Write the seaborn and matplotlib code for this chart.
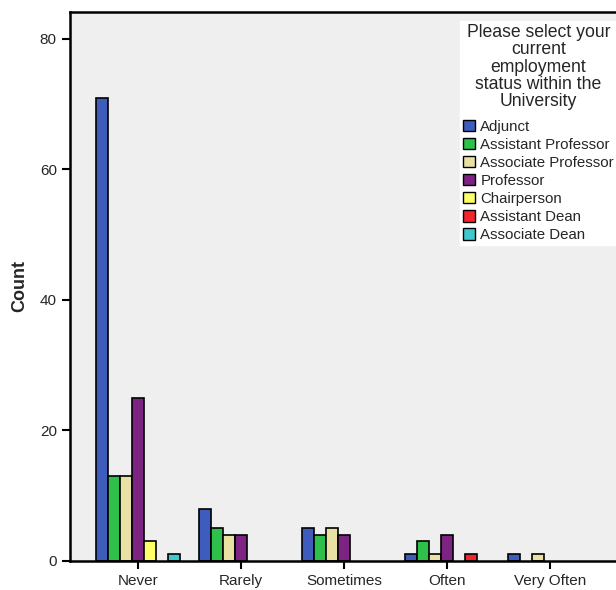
import matplotlib
matplotlib.use("Agg")
import matplotlib.pyplot as plt
from matplotlib.patches import Patch
import seaborn as sns
import pandas as pd

categories = ["Never", "Rarely", "Sometimes", "Often", "Very Often"]
statuses = ["Adjunct", "Assistant Professor", "Associate Professor", "Professor",
            "Chairperson", "Assistant Dean", "Associate Dean"]
adjunct = [71, 8, 5, 1, 1]
assistant_prof = [13, 5, 4, 3, 0]
associate_prof = [13, 4, 5, 1, 1]
professor = [25, 4, 4, 4, 0]
chairperson = [3, 0, 0, 0, 0]
assistant_dean = [0, 0, 0, 1, 0]
associate_dean = [1, 0, 0, 0, 0]
series = [adjunct, assistant_prof, associate_prof, professor,
          chairperson, assistant_dean, associate_dean]
colors = ["#3D5CBC", "#2FC04C", "#E9E0A4", "#7D2482", "#FFFF6A", "#F2262C", "#3FC9CC"]

rows = []
for s, vals in zip(statuses, series):
    for c, v in zip(categories, vals):
        rows.append({"cat": c, "status": s, "count": v})
df = pd.DataFrame(rows)

sns.set_theme(style="white")
plt.rcParams['font.family'] = ['Liberation Sans', 'DejaVu Sans']

fig = plt.figure(figsize=(6.16, 5.90), dpi=100)
ax = fig.add_axes([70/616, 1 - 561/590, 1 - 70/616, (561 - 12)/590])
ax.set_facecolor("#EFEFEF")

sns.barplot(data=df, x="cat", y="count", hue="status", order=categories,
            hue_order=statuses, palette=colors, width=0.815, dodge=True,
            edgecolor="black", linewidth=1.2, saturation=1, ax=ax, legend=False)

for p in ax.patches:
    if p.get_height() == 0:
        p.set_visible(False)

ax.set_ylim(0, 84.1)
ax.set_yticks([0, 20, 40, 60, 80])
ax.set_xlim(-0.66, 4.64)
ax.set_xlabel("")
ax.set_ylabel("Count", fontsize=13, fontweight="bold", labelpad=8)
ax.tick_params(axis="both", which="both", direction="out", length=6, width=1.5,
               color="black", labelsize=11, left=True, bottom=True)
for sp in ["left", "bottom", "top"]:
    ax.spines[sp].set_visible(True)
    ax.spines[sp].set_color("black")
    ax.spines[sp].set_linewidth(1.8)
ax.spines["right"].set_visible(False)

handles = [Patch(facecolor=c, edgecolor="black", linewidth=1.0, label=s)
           for s, c in zip(statuses, colors)]
leg = ax.legend(handles=handles,
                title="Please select your\ncurrent\nemployment\nstatus within the\nUniversity",
                loc="upper left", bbox_to_anchor=(460/616, 1 - 21/590),
                bbox_transform=fig.transFigure, frameon=True, fancybox=False,
                framealpha=1, edgecolor="white", fontsize=10.8, title_fontsize=12.7,
                handlelength=0.8, handleheight=0.8, handletextpad=0.35,
                labelspacing=0.27, borderpad=0.2, borderaxespad=0)
leg.get_title().set_multialignment("center")
leg.get_title().set_linespacing(1.02)
leg._legend_box.sep = 7

fig.savefig("out.png", dpi=100, facecolor="white")
